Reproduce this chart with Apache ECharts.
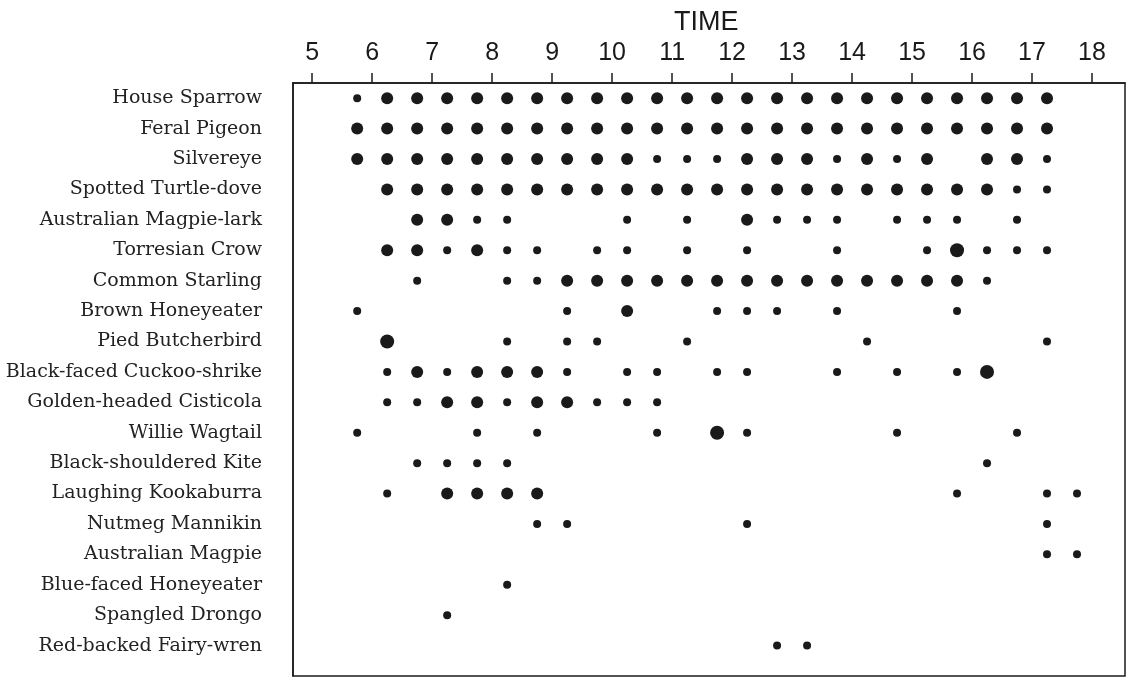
<!DOCTYPE html>
<html>
<head>
<meta charset="utf-8">
<script src="https://cdn.jsdelivr.net/npm/echarts@6/dist/echarts.min.js"></script>
<style>
  html, body { margin: 0; padding: 0; background: #fff; }
  #chart { width: 1126px; height: 677px; }
</style>
</head>
<body>
<div id="chart"></div>
<script>
// species, top to bottom
var species = [
    'House Sparrow', 'Feral Pigeon', 'Silvereye', 'Spotted Turtle-dove',
    'Australian Magpie-lark', 'Torresian Crow', 'Common Starling',
    'Brown Honeyeater', 'Pied Butcherbird', 'Black-faced Cuckoo-shrike',
    'Golden-headed Cisticola', 'Willie Wagtail', 'Black-shouldered Kite',
    'Laughing Kookaburra', 'Nutmeg Mannikin', 'Australian Magpie',
    'Blue-faced Honeyeater', 'Spangled Drongo', 'Red-backed Fairy-wren'
];
var hourTicks = [5, 6, 7, 8, 9, 10, 11, 12, 13, 14, 15, 16, 17, 18];

// [time, dot class] 1 = small, 2 = large, 3 = very large
var houseSparrow = [[5.75,1],[6.25,2],[6.75,2],[7.25,2],[7.75,2],[8.25,2],[8.75,2],[9.25,2],[9.75,2],[10.25,2],[10.75,2],[11.25,2],[11.75,2],[12.25,2],[12.75,2],[13.25,2],[13.75,2],[14.25,2],[14.75,2],[15.25,2],[15.75,2],[16.25,2],[16.75,2],[17.25,2]];
var feralPigeon = [[5.75,2],[6.25,2],[6.75,2],[7.25,2],[7.75,2],[8.25,2],[8.75,2],[9.25,2],[9.75,2],[10.25,2],[10.75,2],[11.25,2],[11.75,2],[12.25,2],[12.75,2],[13.25,2],[13.75,2],[14.25,2],[14.75,2],[15.25,2],[15.75,2],[16.25,2],[16.75,2],[17.25,2]];
var silvereye = [[5.75,2],[6.25,2],[6.75,2],[7.25,2],[7.75,2],[8.25,2],[8.75,2],[9.25,2],[9.75,2],[10.25,2],[10.75,1],[11.25,1],[11.75,1],[12.25,2],[12.75,2],[13.25,2],[13.75,1],[14.25,2],[14.75,1],[15.25,2],[16.25,2],[16.75,2],[17.25,1]];
var turtleDove = [[6.25,2],[6.75,2],[7.25,2],[7.75,2],[8.25,2],[8.75,2],[9.25,2],[9.75,2],[10.25,2],[10.75,2],[11.25,2],[11.75,2],[12.25,2],[12.75,2],[13.25,2],[13.75,2],[14.25,2],[14.75,2],[15.25,2],[15.75,2],[16.25,2],[16.75,1],[17.25,1]];
var magpieLark = [[6.75,2],[7.25,2],[7.75,1],[8.25,1],[10.25,1],[11.25,1],[12.25,2],[12.75,1],[13.25,1],[13.75,1],[14.75,1],[15.25,1],[15.75,1],[16.75,1]];
var torresianCrow = [[6.25,2],[6.75,2],[7.25,1],[7.75,2],[8.25,1],[8.75,1],[9.75,1],[10.25,1],[11.25,1],[12.25,1],[13.75,1],[15.25,1],[15.75,3],[16.25,1],[16.75,1],[17.25,1]];
var starling = [[6.75,1],[8.25,1],[8.75,1],[9.25,2],[9.75,2],[10.25,2],[10.75,2],[11.25,2],[11.75,2],[12.25,2],[12.75,2],[13.25,2],[13.75,2],[14.25,2],[14.75,2],[15.25,2],[15.75,2],[16.25,1]];
var brownHoneyeater = [[5.75,1],[9.25,1],[10.25,2],[11.75,1],[12.25,1],[12.75,1],[13.75,1],[15.75,1]];
var butcherbird = [[6.25,3],[8.25,1],[9.25,1],[9.75,1],[11.25,1],[14.25,1],[17.25,1]];
var cuckooShrike = [[6.25,1],[6.75,2],[7.25,1],[7.75,2],[8.25,2],[8.75,2],[9.25,1],[10.25,1],[10.75,1],[11.75,1],[12.25,1],[13.75,1],[14.75,1],[15.75,1],[16.25,3]];
var cisticola = [[6.25,1],[6.75,1],[7.25,2],[7.75,2],[8.25,1],[8.75,2],[9.25,2],[9.75,1],[10.25,1],[10.75,1]];
var willieWagtail = [[5.75,1],[7.75,1],[8.75,1],[10.75,1],[11.75,3],[12.25,1],[14.75,1],[16.75,1]];
var kite = [[6.75,1],[7.25,1],[7.75,1],[8.25,1],[16.25,1]];
var kookaburra = [[6.25,1],[7.25,2],[7.75,2],[8.25,2],[8.75,2],[15.75,1],[17.25,1],[17.75,1]];
var mannikin = [[8.75,1],[9.25,1],[12.25,1],[17.25,1]];
var magpie = [[17.25,1],[17.75,1]];
var blueFaced = [[8.25,1]];
var drongo = [[7.25,1]];
var fairyWren = [[12.75,1],[13.25,1]];

var rows = [houseSparrow, feralPigeon, silvereye, turtleDove, magpieLark,
    torresianCrow, starling, brownHoneyeater, butcherbird, cuckooShrike,
    cisticola, willieWagtail, kite, kookaburra, mannikin, magpie,
    blueFaced, drongo, fairyWren];

var dotSize = { 1: 8, 2: 12, 3: 14 };

var points = [];
rows.forEach(function (row, i) {
    row.forEach(function (p) {
        points.push([p[0], i, p[1]]);
    });
});

var chart = echarts.init(document.getElementById('chart'));
var option = {
    backgroundColor: '#fff',
    animation: false,
    title: {
        text: 'TIME',
        left: 669,
        top: 4,
        textStyle: { fontFamily: 'Liberation Sans', fontSize: 27, fontWeight: 'normal', color: '#1a1a1a' }
    },
    grid: {
        left: 293, top: 83, right: 1, bottom: 1,
        show: true, borderColor: '#1a1a1a', borderWidth: 1.5
    },
    xAxis: {
        type: 'value',
        position: 'top',
        min: 4.68,
        max: 18.55,
        axisLine: { show: true, onZero: false, lineStyle: { color: '#1a1a1a', width: 1.5 } },
        axisTick: { show: true, inside: false, length: 10, customValues: hourTicks, lineStyle: { color: '#1a1a1a', width: 1.5 } },
        axisLabel: {
            customValues: hourTicks,
            margin: 17,
            fontFamily: 'Liberation Sans',
            fontSize: 25,
            color: '#1a1a1a'
        },
        splitLine: { show: false }
    },
    yAxis: {
        type: 'value',
        inverse: true,
        min: -0.5,
        max: 19,
        interval: 0.5,
        axisLine: { show: true, onZero: false, lineStyle: { color: '#1a1a1a', width: 1.5 } },
        axisTick: { show: false },
        axisLabel: {
            margin: 31,
            fontFamily: 'DejaVu Serif',
            fontSize: 19,
            color: '#222',
            formatter: function (v) {
                return Number.isInteger(v) && species[v] ? species[v] : '';
            }
        },
        splitLine: { show: false }
    },
    series: [{
        type: 'scatter',
        data: points,
        symbol: 'circle',
        symbolSize: function (v) { return dotSize[v[2]]; },
        itemStyle: { color: '#1a1a1a', opacity: 1 }
    }]
};
chart.setOption(option);
</script>
</body>
</html>
